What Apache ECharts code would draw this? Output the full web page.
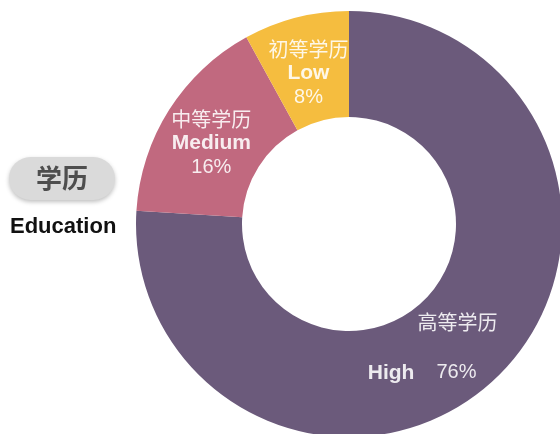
<!DOCTYPE html>
<html>
<head>
<meta charset="utf-8">
<script src="https://cdn.jsdelivr.net/npm/echarts@6/dist/echarts.min.js"></script>
<style>
html,body{margin:0;padding:0;background:#fff;}
#main{width:560px;height:434px;}
</style>
</head>
<body>
<div id="main"></div>
<script>
// 学历分布
var cnNames = ['高等学历', '中等学历', '初等学历'];
var enNames = ['High', 'Medium', 'Low'];
var values = [76, 16, 8];
var colors = ['#6b5a7b', '#c1697f', '#f5bd3f'];

var cnFont = '"Noto Sans CJK SC", "Noto Sans", sans-serif';
var enFont = '"Liberation Sans", Arial, sans-serif';
var txtColor = 'rgba(255,255,255,0.88)';

var pieData = [];
for (var i = 0; i < values.length; i++) {
	var item = {
		name: cnNames[i],
		value: values[i],
		itemStyle: {color: colors[i]}
	};
	if (i == 0) {
		// 高等学历 两行排法不同
		item.label = {
			padding: [10, 0, 0, 0],
			formatter: '{cnH|' + cnNames[i] + '}\n{gap| }\n{en|' + enNames[i] + '}{pctH|' + values[i] + '%}'
		};
	}
	pieData.push(item);
}

var myChart = echarts.init(document.getElementById('main'));
myChart.setOption({
	animation: false,
	title: [
		{
			text: '学历',
			left: 9,
			top: 157,
			padding: [8, 27, 8, 27],
			backgroundColor: '#dadada',
			borderRadius: 22,
			shadowColor: 'rgba(0,0,0,0.25)',
			shadowBlur: 4,
			shadowOffsetY: 2,
			textStyle: {
				fontFamily: cnFont,
				fontSize: 26,
				fontWeight: 'bold',
				color: '#4e4e4e',
				lineHeight: 27
			}
		},
		{
			text: 'Education',
			left: 10,
			top: 216,
			padding: 0,
			textStyle: {
				fontFamily: enFont,
				fontSize: 22,
				fontWeight: 'bold',
				color: '#111'
			}
		}
	],
	series: [
		{
			type: 'pie',
			center: [349, 224],
			radius: [107, 213],
			startAngle: 90,
			clockwise: true,
			avoidLabelOverlap: false,
			silent: true,
			label: {
				show: true,
				position: 'inside',
				padding: [14, 0, 0, 0],
				formatter: function (p) {
					var k = p.dataIndex;
					return '{cn|' + cnNames[k] + '}\n{en|' + enNames[k] + '}\n{pct|' + values[k] + '%}';
				},
				rich: {
					cn: {fontFamily: cnFont, fontSize: 20, color: txtColor, lineHeight: 24},
					en: {fontFamily: enFont, fontSize: 21, fontWeight: 'bold', color: txtColor, lineHeight: 24},
					pct: {fontFamily: enFont, fontSize: 20, color: txtColor, lineHeight: 24},
					cnH: {fontFamily: cnFont, fontSize: 20, color: txtColor, lineHeight: 24, padding: [0, 6, 0, 0]},
					gap: {fontSize: 10, lineHeight: 26, height: 26},
					pctH: {fontFamily: enFont, fontSize: 20, color: txtColor, lineHeight: 24, padding: [0, 77, 0, 22]}
				}
			},
			labelLine: {show: false},
			data: pieData
		}
	]
});
</script>
</body>
</html>
